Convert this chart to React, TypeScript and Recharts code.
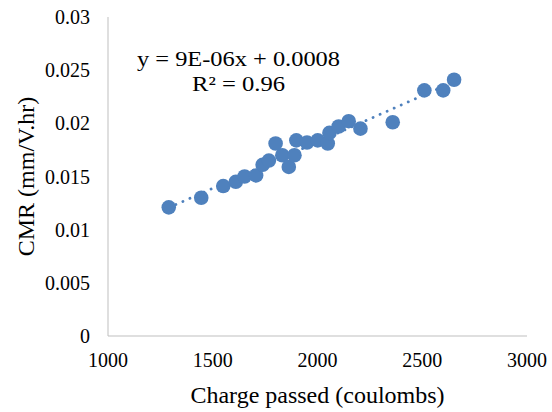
import React from "react";
import {
  ScatterChart,
  Scatter,
  XAxis,
  YAxis,
  ReferenceLine,
  Customized,
} from "recharts";

// Charge passed (coulombs) for each specimen
const chargePassed = [
  1290, 1445, 1550, 1610, 1652, 1707, 1738, 1768, 1800, 1832, 1863, 1890,
  1899, 1950, 2001, 2049, 2057, 2101, 2149, 2205, 2359, 2510, 2600, 2652,
];

// Chloride migration rate (mm/V.hr) for each specimen
const cmrValues = [
  0.0121, 0.013, 0.0141, 0.0145, 0.015, 0.0151, 0.0161, 0.0165, 0.0181, 0.017,
  0.0159, 0.017, 0.0184, 0.0182, 0.0184, 0.0181, 0.0191, 0.0197, 0.0202,
  0.0195, 0.0201, 0.0231, 0.0231, 0.0241,
];

const xTicks = [1000, 1500, 2000, 2500, 3000];
const yTicks = [0, 0.005, 0.01, 0.015, 0.02, 0.025, 0.03];

const equationLines = ["y = 9E-06x + 0.0008", "R\u00B2 = 0.96"];
const equationWidths = [203, 93];

const BLUE = "#4F81BD";
const AXIS_GREY = "#BFBFBF";
const FONT = '"Liberation Serif", "Times New Roman", serif';

const points = chargePassed.map((x, i) => ({ x, y: cmrValues[i] }));

// Least-squares linear trendline over the data range
function linearFit(xs: number[], ys: number[]) {
  const n = xs.length;
  const mx = xs.reduce((a, b) => a + b, 0) / n;
  const my = ys.reduce((a, b) => a + b, 0) / n;
  let sxy = 0;
  let sxx = 0;
  for (let i = 0; i < n; i++) {
    sxy += (xs[i] - mx) * (ys[i] - my);
    sxx += (xs[i] - mx) * (xs[i] - mx);
  }
  const slope = sxy / sxx;
  return { slope, intercept: my - slope * mx };
}

const fit = linearFit(chargePassed, cmrValues);
const xMin = Math.min(...chargePassed);
const xMax = Math.max(...chargePassed);
const trendSegment = [
  { x: xMin, y: fit.slope * xMin + fit.intercept },
  { x: xMax, y: fit.slope * xMax + fit.intercept },
];

const EquationText = () => (
  <g>
    {equationLines.map((line, i) => (
      <text
        key={line}
        x={238.5}
        y={66 + i * 25}
        textAnchor="middle"
        fontFamily={FONT}
        fontSize={21.5}
        textLength={equationWidths[i]}
        lengthAdjust="spacingAndGlyphs"
        fill="#000"
      >
        {line}
      </text>
    ))}
  </g>
);

export default function App() {
  return (
    <div style={{ position: "absolute", left: 0, top: 0, background: "#fff" }}>
      <ScatterChart
        width={552}
        height={412}
        margin={{ top: 17, right: 25, bottom: 16, left: 0 }}
      >
        <XAxis
          type="number"
          dataKey="x"
          domain={[1000, 3000]}
          ticks={xTicks}
          interval={0}
          height={60}
          tickLine={false}
          tickSize={0}
          tickMargin={17}
          axisLine={{ stroke: AXIS_GREY, strokeWidth: 1 }}
          tick={{ fill: "#000", fontSize: 20, fontFamily: FONT }}
          label={{
            content: (props: any) => {
              const vb = props.viewBox;
              return (
                <text
                  x={vb.x + vb.width / 2}
                  y={vb.y + 67}
                  textAnchor="middle"
                  fontFamily={FONT}
                  fontSize={24}
                  fill="#000"
                >
                  Charge passed (coulombs)
                </text>
              );
            },
          }}
        />
        <YAxis
          type="number"
          dataKey="y"
          domain={[0, 0.03]}
          ticks={yTicks}
          interval={0}
          width={108}
          tickLine={false}
          tickSize={0}
          tickMargin={18}
          axisLine={{ stroke: AXIS_GREY, strokeWidth: 1 }}
          tickFormatter={(v: number) => String(v)}
          tick={{ fill: "#000", fontSize: 20, fontFamily: FONT }}
          label={{
            content: (props: any) => {
              const vb = props.viewBox;
              const cx = vb.x + 34;
              const cy = vb.y + vb.height / 2;
              return (
                <text
                  x={cx}
                  y={cy}
                  transform={`rotate(-90, ${cx}, ${cy})`}
                  textAnchor="middle"
                  fontFamily={FONT}
                  fontSize={24}
                  fill="#000"
                >
                  CMR (mm/V.hr)
                </text>
              );
            },
          }}
        />
        <Scatter
          data={points}
          fill={BLUE}
          isAnimationActive={false}
          shape={(p: any) => <circle cx={p.cx} cy={p.cy} r={7.3} fill={BLUE} />}
        />
        <ReferenceLine
          segment={trendSegment}
          stroke={BLUE}
          strokeWidth={2.8}
          strokeDasharray="0.1 7.6"
          strokeLinecap="round"
          ifOverflow="visible"
        />
        <Customized component={EquationText} />
      </ScatterChart>
    </div>
  );
}
